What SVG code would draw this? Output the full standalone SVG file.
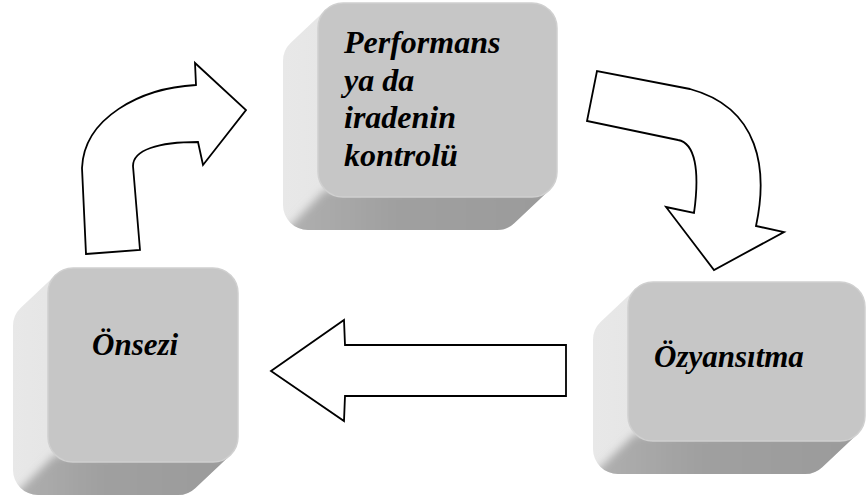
<svg xmlns="http://www.w3.org/2000/svg" xmlns:xlink="http://www.w3.org/1999/xlink" width="867" height="500" viewBox="0 0 867 500">
  <style>
    .body { fill: url(#sideLight); }
    .bottom { fill: url(#sideDark); filter: url(#soft); }
    .face { fill: #c6c6c6; stroke: #d0d0d0; stroke-width: 1.5; }
    .label { font-family: "Liberation Serif", "Times New Roman", serif; font-weight: bold; font-style: italic; font-size: 31px; fill: #000; }
    .big { font-size: 32px; }
    .arrow { fill: #fff; stroke: #000; stroke-width: 1.8; stroke-linejoin: miter; }
  </style>
  <defs>
    <linearGradient id="sideLight" x1="0" y1="0" x2="1" y2="0">
      <stop offset="0" stop-color="#e8e8e8"/>
      <stop offset="1" stop-color="#dadada"/>
    </linearGradient>
    <linearGradient id="sideDark" x1="0" y1="0" x2="1" y2="0">
      <stop offset="0" stop-color="#b2b2b2"/>
      <stop offset="0.4" stop-color="#a0a0a0"/>
      <stop offset="1" stop-color="#9a9a9a"/>
    </linearGradient>
    <filter id="soft" x="-20%" y="-50%" width="140%" height="200%">
      <feGaussianBlur stdDeviation="4"/>
    </filter>
    <!-- key bodies: hull of the face and its offset copy -->
    <path id="body-top" d="M343,3 L532,3 A25,25 0 0 1 557,28 L557,172 A25,25 0 0 1 549.2,190.2 L514.2,223.2 A25,25 0 0 1 497,230 L308,230 A25,25 0 0 1 283,205 L283,61 A25,25 0 0 1 290.8,42.8 L325.8,9.8 A25,25 0 0 1 343,3 Z"/>
    <path id="body-left" d="M73,268 L213,268 A25,25 0 0 1 238,293 L238,437 A25,25 0 0 1 230.2,455.2 L195.2,488.2 A25,25 0 0 1 178,495 L38,495 A25,25 0 0 1 13,470 L13,326 A25,25 0 0 1 20.8,307.8 L55.8,274.8 A25,25 0 0 1 73,268 Z"/>
    <path id="body-right" d="M653,282 L840,282 A25,25 0 0 1 865,307 L865,416 A25,25 0 0 1 857.2,434.2 L822.2,467.2 A25,25 0 0 1 805,474 L618,474 A25,25 0 0 1 593,449 L593,340 A25,25 0 0 1 600.8,321.8 L635.8,288.8 A25,25 0 0 1 653,282 Z"/>
    <clipPath id="clip-top"><use xlink:href="#body-top"/></clipPath>
    <clipPath id="clip-left"><use xlink:href="#body-left"/></clipPath>
    <clipPath id="clip-right"><use xlink:href="#body-right"/></clipPath>
  </defs>

  <g id="connectors">
    <path class="arrow" d="M86,254 L140,250 L133,166 C133,150 158,142 198,142 L203,165 L246,110 L195,63 L196,85 C140,88 84,118 82,168 Z"/>
    <path class="arrow" d="M597,71 L587,121 L678,140 C695,143 700,170 694,213 L666,207 L714,270 L784,232 L756,226 C768,170 760,108 690,89 Z"/>
    <path class="arrow" d="M271,371 L344,320 L345,345 L566,345 L566,396 L345,396 L344,421 Z"/>
  </g>

  <g id="node-performans">
    <use xlink:href="#body-top" class="body"/>
    <g clip-path="url(#clip-top)">
      <polygon class="bottom" points="325,190 557,190 570,245 325,245 272,245"/>
    </g>
    <rect class="face" x="318" y="3" width="239" height="194" rx="25" ry="25"/>
    <text class="label big" x="344" y="53">Performans</text>
    <text class="label big" x="344" y="90.5">ya da</text>
    <text class="label big" x="344" y="128">iradenin</text>
    <text class="label big" x="344" y="166">kontrolü</text>
  </g>

  <g id="node-onsezi">
    <use xlink:href="#body-left" class="body"/>
    <g clip-path="url(#clip-left)">
      <polygon class="bottom" points="55,455 238,455 250,510 -1,510"/>
    </g>
    <rect class="face" x="48" y="268" width="190" height="194" rx="25" ry="25"/>
    <text class="label" x="92" y="355">Önsezi</text>
  </g>

  <g id="node-ozyansitma">
    <use xlink:href="#body-right" class="body"/>
    <g clip-path="url(#clip-right)">
      <polygon class="bottom" points="635,434 865,434 877,490 577,490"/>
    </g>
    <rect class="face" x="628" y="282" width="237" height="159" rx="25" ry="25"/>
    <text class="label" x="654" y="367">Özyansıtma</text>
  </g>
</svg>
